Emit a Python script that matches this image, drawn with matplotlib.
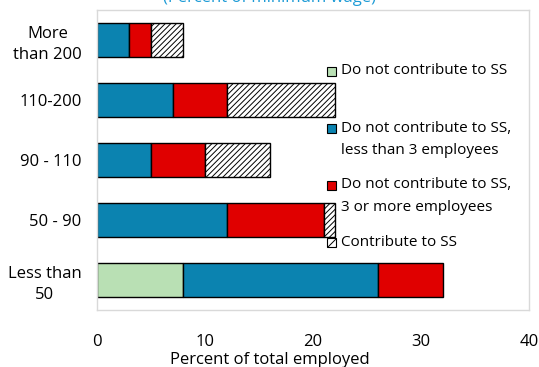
import matplotlib
matplotlib.use("Agg")
import matplotlib.pyplot as plt
from matplotlib.patches import Rectangle
import numpy as np

plt.rcParams['font.family'] = ['Open Sans', 'DejaVu Sans']
plt.rcParams['hatch.linewidth'] = 0.7

categories = ["More\nthan 200", "110-200", "90 - 110", "50 - 90", "Less than\n50"]
not_contrib = [0, 0, 0, 0, 8]
not_contrib_small = [3, 7, 5, 12, 18]
not_contrib_large = [2, 5, 5, 9, 6]
contrib = [3, 10, 6, 1, 0]

series_labels = ["Do not contribute to SS",
                 "Do not contribute to SS,\nless than 3 employees",
                 "Do not contribute to SS,\n3 or more employees",
                 "Contribute to SS"]
colors = ["#b9e0b4", "#0b83b0", "#e00000", "white"]
hatches = [None, None, None, "//////"]

W, H = 539, 367
fig = plt.figure(figsize=(W / 100, H / 100), dpi=100)
ax = fig.add_axes([97 / W, 1 - 310 / H, (529 - 97) / W, 300 / H])

y = np.arange(len(categories))
left = np.zeros(len(categories))
for vals, col, hat in zip([not_contrib, not_contrib_small, not_contrib_large, contrib], colors, hatches):
    vals = np.array(vals, dtype=float)
    mask = vals > 0
    ax.barh(y[mask], vals[mask], left=left[mask], height=0.56, color=col,
            edgecolor="black", linewidth=1.0, hatch=hat)
    left += vals

ax.set_xlim(0, 40)
ax.set_ylim(len(categories) - 0.5, -0.5)
ax.set_xticks([0, 10, 20, 30, 40])
ax.set_yticks(y)
ax.set_yticklabels(categories, multialignment="center", linespacing=1.4)
ax.tick_params(axis="both", length=0, labelsize=12, colors="#000000")
ax.tick_params(axis="y", pad=11)
ax.tick_params(axis="x", pad=17)
for s in ax.spines.values():
    s.set_color("#d9d9d9")
    s.set_linewidth(1.0)
ax.set_xlabel("Percent of total employed", fontsize=12, labelpad=2)
ax.xaxis.label.set_x((269.5 - 97) / (529 - 97))

# legend drawn manually
leg_y = [71, 128, 185, 242]
for ly, lab, col, hat in zip(leg_y, series_labels, colors, hatches):
    fig.patches.append(Rectangle((327 / W, 1 - (ly + 5) / H), 9 / W, 9 / H,
                                 transform=fig.transFigure, facecolor=col,
                                 edgecolor="black", linewidth=0.8,
                                 hatch=("////" if hat else None)))
    for i, ln in enumerate(lab.split("\n")):
        fig.text(341 / W, 1 - (ly + 22.5 * i) / H, ln, fontsize=11, va="center", ha="left")

fig.text(0.5, 1 - 1.5 / H, "(Percent of minimum wage)", fontsize=12, color="#1d9bd6",
         ha="center", va="baseline")

fig.savefig("out.png", dpi=100)
